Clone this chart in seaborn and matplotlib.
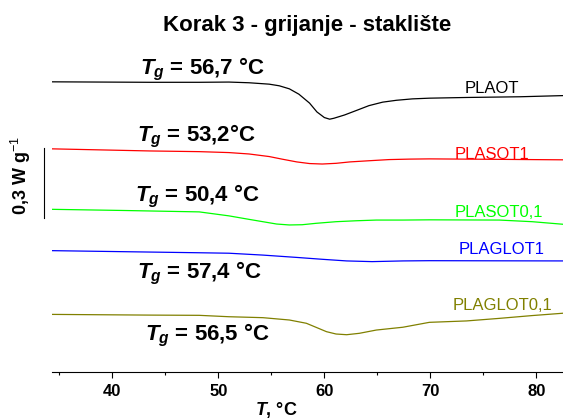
import pandas as pd
import seaborn as sns
import matplotlib.pyplot as plt

# temperatura (°C) i toplinski tok (W/g, s pomakom) za svaki uzorak
t_plaot = [34.3, 43.5, 48.2, 51.0, 52.9, 54.8, 55.75, 56.7, 57.6, 58.6, 59.3, 60.0, 60.5, 60.9, 61.9, 63.0, 64.2, 65.5, 66.8, 68.3, 69.9, 73.4, 78.4, 82.5]
hf_plaot = [1.243, 1.241, 1.241, 1.242, 1.239, 1.233, 1.226, 1.213, 1.190, 1.152, 1.114, 1.090, 1.083, 1.087, 1.101, 1.120, 1.141, 1.156, 1.164, 1.170, 1.173, 1.176, 1.179, 1.184]

t_plasot1 = [34.3, 43.5, 48.2, 51.0, 52.9, 54.8, 56.0, 57.4, 58.6, 59.8, 61.1, 62.4, 64.2, 66.1, 68.0, 69.9, 76.5, 82.5]
hf_plasot1 = [0.956, 0.947, 0.944, 0.940, 0.934, 0.923, 0.912, 0.900, 0.893, 0.891, 0.894, 0.900, 0.905, 0.910, 0.912, 0.913, 0.911, 0.909]

t_plasot01 = [34.3, 41.1, 48.2, 51.0, 52.9, 54.2, 55.5, 56.7, 57.9, 59.2, 61.1, 63.0, 64.9, 67.4, 69.9, 76.5, 79.6, 82.5]
hf_plasot01 = [0.697, 0.692, 0.686, 0.669, 0.654, 0.644, 0.634, 0.630, 0.631, 0.637, 0.644, 0.648, 0.651, 0.651, 0.652, 0.651, 0.644, 0.633]

t_plaglot1 = [34.3, 43.5, 48.2, 51.0, 54.2, 57.4, 59.8, 62.1, 64.5, 67.4, 69.9, 82.5]
hf_plaglot1 = [0.520, 0.514, 0.511, 0.509, 0.501, 0.491, 0.483, 0.476, 0.473, 0.476, 0.477, 0.476]

t_plaglot01 = [34.3, 43.5, 48.2, 51.0, 54.2, 56.7, 58.3, 59.2, 60.2, 61.1, 62.1, 63.3, 64.9, 67.4, 69.9, 73.4, 76.5, 79.6, 82.5]
hf_plaglot01 = [0.247, 0.244, 0.243, 0.237, 0.233, 0.223, 0.209, 0.192, 0.173, 0.163, 0.160, 0.166, 0.180, 0.192, 0.213, 0.219, 0.230, 0.242, 0.252]

uzorci = ['PLAOT', 'PLASOT1', 'PLASOT0,1', 'PLAGLOT1', 'PLAGLOT0,1']
boje = ['#000000', '#ff0000', '#00ff00', '#0000ff', '#808000']
tg_tekst = ['56,7 °C', '53,2°C', '50,4 °C', '57,4 °C', '56,5 °C']

temps = [t_plaot, t_plasot1, t_plasot01, t_plaglot1, t_plaglot01]
tokovi = [hf_plaot, hf_plasot1, hf_plasot01, hf_plaglot1, hf_plaglot01]

df = pd.concat([pd.DataFrame({'T': t, 'HF': hf, 'uzorak': u})
                for t, hf, u in zip(temps, tokovi, uzorci)], ignore_index=True)

sns.set_theme(style='white')
plt.rcParams['font.family'] = ['Liberation Sans', 'DejaVu Sans']
plt.rcParams['text.color'] = 'black'
plt.rcParams['axes.labelcolor'] = 'black'
plt.rcParams['xtick.color'] = 'black'
plt.rcParams['mathtext.fontset'] = 'custom'
plt.rcParams['mathtext.it'] = 'Liberation Sans:italic:bold'
plt.rcParams['mathtext.rm'] = 'Liberation Sans'
plt.rcParams['mathtext.bf'] = 'Liberation Sans:bold'

fig = plt.figure(figsize=(5.63, 4.19), dpi=100)
ax = fig.add_axes([0.092, 0.112, 0.908, 0.788])

sns.lineplot(data=df, x='T', y='HF', hue='uzorak', palette=boje, hue_order=uzorci,
             estimator=None, sort=False, units='uzorak', legend=False, linewidth=0.9, ax=ax)

# položaji natpisa (T, toplinski tok)
tg_pos = [(42.6, 1.273), (42.3, 0.990), (42.1, 0.730), (42.3, 0.403), (43.1, 0.137)]
ime_pos = [(75.75, 1.196), (75.85, 0.913), (76.5, 0.666), (76.7, 0.506), (76.8, 0.266)]

for u, b, tg, (xt, yt), (xn, yn) in zip(uzorci, boje, tg_tekst, tg_pos, ime_pos):
    ax.text(xt, yt, r'$T_g$ = ' + tg, fontsize=16, fontweight='bold', ha='left', va='baseline')
    ax.text(xn, yn, u, color=b, fontsize=12, ha='center', va='baseline')

ax.set_xlim(34.3, 82.5)
ax.set_ylim(0, 1.414)
ax.set_xticks([40, 50, 60, 70, 80])
ax.set_xticks([35, 45, 55, 65, 75], minor=True)
ax.tick_params(axis='x', which='major', direction='out', length=4.3, width=0.8, pad=4,
               labelsize=12, bottom=True)
ax.tick_params(axis='x', which='minor', direction='out', length=2.2, width=0.8, bottom=True)
for lab in ax.get_xticklabels():
    lab.set_fontweight('bold')
ax.set_yticks([])

for s in ['top', 'right']:
    ax.spines[s].set_visible(False)
ax.spines['bottom'].set_color('black')
ax.spines['bottom'].set_linewidth(0.8)
# mjerilo 0,3 W/g
ax.spines['left'].set_color('black')
ax.spines['left'].set_linewidth(0.8)
ax.spines['left'].set_bounds(0.66, 0.96)
ax.spines['left'].set_position(('outward', 5.8))

ax.set_xlabel(r'$T$, °C', fontsize=13, fontweight='bold')
ax.xaxis.set_label_coords(0.44, -0.085)
ax.set_ylabel(r'0,3 W g$^{-1}$', fontsize=13, fontweight='bold')
ax.yaxis.set_label_coords(-0.037, 0.594)

ax.set_title('Korak 3 - grijanje - staklište', fontsize=16, fontweight='bold', pad=8)

plt.savefig('out.png', dpi=100)
